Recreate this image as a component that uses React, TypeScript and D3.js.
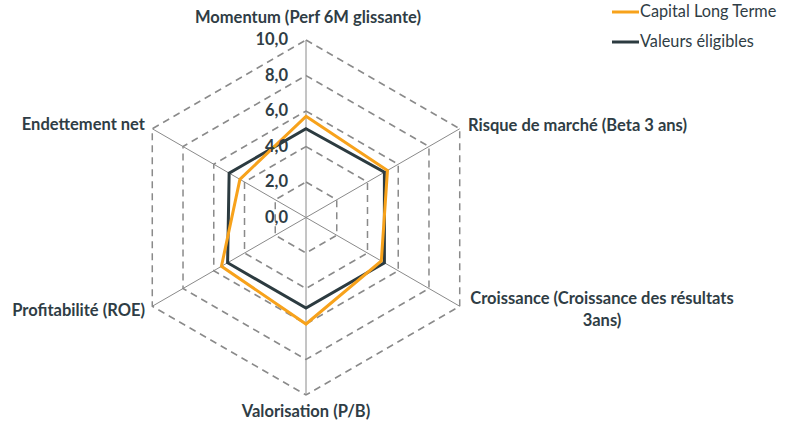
import React from "react";
import * as d3 from "d3";

const axes = [
  "Momentum (Perf 6M glissante)",
  "Risque de marché (Beta 3 ans)",
  "Croissance (Croissance des résultats|3ans)",
  "Valorisation (P/B)",
  "Profitabilité (ROE)",
  "Endettement net",
];
const capitalLT = [5.7, 5.3, 4.9, 6.0, 5.5, 4.3];
const eligibles = [5.0, 5.1, 5.1, 5.1, 5.1, 5.0];
const ticks = [0, 2, 4, 6, 8, 10];
const seriesNames = ["Capital Long Terme", "Valeurs éligibles"];

const W = 796;
const H = 424;
const cx = 306;
const cy = 217.5;
const R = 177.5;
const ORANGE = "#f7a21b";
const DARK = "#2c3b40";
const TEXT = "#2f3d45";
const GRID = "#8a8a8a";
const FONT = "Lato, 'Open Sans', sans-serif";

const r = d3.scaleLinear().domain([0, 10]).range([0, R]);
const angle = (i: number) => (Math.PI * 2 * i) / axes.length;
const pt = (i: number, v: number): [number, number] => [
  cx + r(v) * Math.sin(angle(i)),
  cy - r(v) * Math.cos(angle(i)),
];

const line = d3
  .line<number>()
  .x((d, i) => pt(i, d)[0])
  .y((d, i) => pt(i, d)[1])
  .curve(d3.curveLinearClosed);

// label placement per axis
const labelPos = [
  { x: 308, y: 19, anchor: "middle" },
  { x: 468, y: 127, anchor: "start" },
  { x: 602, y: 300, anchor: "middle" },
  { x: 306, y: 413, anchor: "middle" },
  { x: 145, y: 312, anchor: "end" },
  { x: 145, y: 126, anchor: "end" },
];

export default function App() {
  const gridVals = ticks.filter((t) => t > 0);
  return (
    <svg
      width={W}
      height={H}
      style={{ position: "absolute", left: 0, top: 0, background: "#fff" }}
      fontFamily={FONT}
    >
      {gridVals.map((t) => (
        <path
          key={t}
          d={line(axes.map(() => t)) || ""}
          fill="none"
          stroke={GRID}
          strokeWidth={1.5}
          strokeDasharray="7 5"
        />
      ))}
      {axes.map((a, i) => {
        const [x, y] = pt(i, 10);
        return <line key={a} x1={cx} y1={cy} x2={x} y2={y} stroke={GRID} strokeWidth={1} />;
      })}
      <path d={line(eligibles) || ""} fill="none" stroke={DARK} strokeWidth={3} strokeLinejoin="miter" />
      <path d={line(capitalLT) || ""} fill="none" stroke={ORANGE} strokeWidth={3} strokeLinejoin="miter" />
      {ticks.map((t) => (
        <text
          key={t}
          x={288}
          y={cy - r(t) + 1}
          textAnchor="end"
          dominantBaseline="middle"
          fontSize={16.5}
          fontWeight="bold"
          fill={TEXT}
        >
          {d3.format(".1f")(t).replace(".", ",")}
        </text>
      ))}
      {axes.map((a, i) => {
        const p = labelPos[i];
        const lines = a.split("|");
        return (
          <text
            key={a}
            x={p.x}
            y={p.y}
            textAnchor={p.anchor as any}
            dominantBaseline="middle"
            fontSize={16.5}
            fontWeight="bold"
            fill={TEXT}
          >
            {lines.map((l, k) => (
              <tspan key={k} x={p.x} dy={k === 0 ? 0 : 22}>
                {l}
              </tspan>
            ))}
          </text>
        );
      })}
      {seriesNames.map((s, k) => (
        <g key={s} transform={`translate(612, ${12 + k * 30})`}>
          <line x1={0} x2={27} y1={0} y2={0} stroke={k === 0 ? ORANGE : DARK} strokeWidth={3} />
          <text x={28} y={1} dominantBaseline="middle" fontSize={16.3} fill={TEXT}>
            {s}
          </text>
        </g>
      ))}
    </svg>
  );
}
